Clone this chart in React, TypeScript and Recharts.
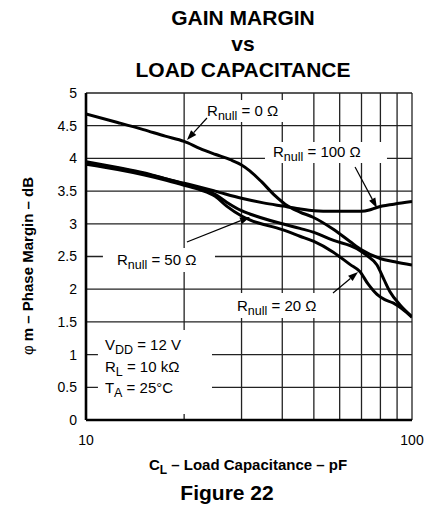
import React from 'react';
import { LineChart, Line, XAxis, YAxis, CartesianGrid, ReferenceArea, ReferenceLine } from 'recharts';

// ---- data ----
const xTicks = [10, 20, 30, 40, 50, 60, 70, 80, 90, 100];
const xTickLabels = ['10', '', '', '', '', '', '', '', '', '100'];
const yTicks = [0, 0.5, 1, 1.5, 2, 2.5, 3, 3.5, 4, 4.5, 5];

const r0X = [10, 12.5, 15, 17.5, 20, 22.4, 25, 27.7, 30, 31.8, 34.6, 38, 40.8, 45.3, 49.7, 57.2, 64.5, 70.2, 79.8, 88.5, 100];
const r0Y = [4.68, 4.55, 4.44, 4.34, 4.26, 4.15, 4.06, 3.98, 3.9, 3.81, 3.64, 3.43, 3.3, 3.18, 3.1, 2.92, 2.73, 2.6, 2.47, 2.42, 2.37];

const r100X = [10, 12.5, 15, 17.5, 20, 22.4, 24.9, 30, 35, 40.2, 45, 50, 57, 64, 70, 74, 78, 88, 100];
const r100Y = [3.95, 3.86, 3.78, 3.69, 3.62, 3.56, 3.5, 3.39, 3.32, 3.27, 3.23, 3.2, 3.19, 3.19, 3.19, 3.21, 3.25, 3.3, 3.34];

const r50X = [10, 12.5, 15, 17.5, 20, 22.4, 24.9, 27, 30, 31.8, 40, 45.3, 50, 57.2, 67.8, 72.5, 78.1, 82, 85.6, 91.9, 100];
const r50Y = [3.93, 3.85, 3.77, 3.69, 3.61, 3.54, 3.45, 3.33, 3.2, 3.15, 3.0, 2.93, 2.87, 2.75, 2.62, 2.52, 2.37, 2.15, 1.96, 1.76, 1.58];

const r20X = [10, 12.5, 15, 17.5, 20, 22.4, 24.9, 27, 30, 31.8, 40, 45.3, 50, 57.2, 64.5, 69.2, 73.3, 78.1, 82.5, 87.5, 93.2, 100];
const r20Y = [3.91, 3.83, 3.75, 3.67, 3.59, 3.52, 3.42, 3.27, 3.12, 3.06, 2.91, 2.81, 2.73, 2.57, 2.38, 2.27, 2.08, 1.92, 1.84, 1.79, 1.7, 1.57];

// annotation boxes (data coordinates)
const boxR0 = { x1: 22.86, x2: 41.07, y1: 4.557, y2: 4.893 };
const boxR100 = { x1: 35.4, x2: 83.8, y1: 3.93, y2: 4.251 };
const boxR50 = { x1: 11.27, x2: 24.87, y1: 2.263, y2: 2.63 };
const boxR20 = { x1: 28.05, x2: 54.5, y1: 1.56, y2: 1.942 };
const boxCond = { x1: 10.88, x2: 24.35, y1: 0.092, y2: 1.376 };

// arrows (data coordinates) [from, to]
const arrowR0 = [{ x: 23.5, y: 4.618 }, { x: 20.4, y: 4.281 }];
const arrowR100 = [{ x: 66.88, y: 3.869 }, { x: 78.07, y: 3.242 }];
const arrowR50 = [{ x: 20.4, y: 2.722 }, { x: 31.85, y: 3.104 }];
const arrowR20 = [{ x: 57.24, y: 1.942 }, { x: 68.31, y: 2.263 }];

const toPts = (xs: number[], ys: number[]) => xs.map((x, i) => ({ x, y: ys[i] }));

const FONT = '"Liberation Sans", Arial, Helvetica, sans-serif';

const Rnull = (value: string, dx: number, dy: number) => (props: any) => {
  const vb = props.viewBox || {};
  return (
    <text x={vb.x + dx} y={vb.y + dy} fontSize={15} fontFamily={FONT} fill="#000">
      <tspan>R</tspan>
      <tspan fontSize={12.5} dy={4}>null</tspan>
      <tspan dy={-4}>{` = ${value} Ω`}</tspan>
    </text>
  );
};

const CondLabel = (props: any) => {
  const vb = props.viewBox || {};
  const x = vb.x + 7;
  const y = vb.y;
  const row = (main: string, sub: string, rest: string, dy: number) => (
    <text x={x} y={y + dy} fontSize={15} fontFamily={FONT} fill="#000">
      <tspan>{main}</tspan>
      <tspan fontSize={12.5} dy={4}>{sub}</tspan>
      <tspan dy={-4}>{rest}</tspan>
    </text>
  );
  return (
    <g>
      {row('V', 'DD', ' = 12 V', 20)}
      {row('R', 'L', '  = 10 kΩ', 42)}
      {row('T', 'A', ' = 25°C', 63)}
    </g>
  );
};

const Arrow = (props: any) => {
  const { x1, y1, x2, y2 } = props;
  const ang = Math.atan2(y2 - y1, x2 - x1);
  const L = 10;
  const W = 3.5;
  const bx = x2 - L * Math.cos(ang);
  const by = y2 - L * Math.sin(ang);
  const px = -Math.sin(ang) * W;
  const py = Math.cos(ang) * W;
  return (
    <g>
      <line x1={x1} y1={y1} x2={bx} y2={by} stroke="#000" strokeWidth={1.2} />
      <polygon points={`${x2},${y2} ${bx + px},${by + py} ${bx - px},${by - py}`} fill="#000" />
    </g>
  );
};

export default function App() {
  return (
    <div style={{ position: 'absolute', left: 0, top: 0, width: 425, height: 508, background: '#fff' }}>
      <LineChart width={425} height={508} margin={{ top: 93, right: 13, bottom: 58, left: 46 }}>
        <CartesianGrid stroke="#222" strokeWidth={1.3} />
        <XAxis
          dataKey="x"
          type="number"
          scale="log"
          domain={[10, 100]}
          ticks={xTicks}
          interval={0}
          allowDataOverflow
          tickFormatter={(v: number) => xTickLabels[xTicks.indexOf(v)] ?? ''}
          tickLine={false}
          tickSize={6}
          tickMargin={9}
          height={30}
          axisLine={{ stroke: '#000', strokeWidth: 2.6 }}
          tick={{ fontSize: 14, fill: '#000', fontFamily: FONT }}
        />
        <XAxis
          xAxisId="top"
          orientation="top"
          dataKey="x"
          type="number"
          scale="log"
          domain={[10, 100]}
          ticks={xTicks}
          height={0}
          tick={false}
          tickLine={false}
          axisLine={{ stroke: '#000', strokeWidth: 2 }}
        />
        <YAxis
          type="number"
          domain={[0, 5]}
          ticks={yTicks}
          interval={0}
          width={40}
          tickLine={false}
          tickSize={6}
          tickMargin={3}
          axisLine={{ stroke: '#000', strokeWidth: 2.6 }}
          tick={{ fontSize: 14, fill: '#000', fontFamily: FONT }}
        />
        <YAxis
          yAxisId="right"
          orientation="right"
          type="number"
          domain={[0, 5]}
          ticks={yTicks}
          width={0}
          tick={false}
          tickLine={false}
          axisLine={{ stroke: '#000', strokeWidth: 2 }}
        />
        <ReferenceArea {...boxR0} fill="#fff" fillOpacity={1} stroke="none" label={Rnull('0', 4, 16)} />
        <ReferenceArea {...boxR100} fill="#fff" fillOpacity={1} stroke="none" label={Rnull('100', 8, 15)} />
        <ReferenceArea {...boxR50} fill="#fff" fillOpacity={1} stroke="none" label={Rnull('50', 14, 17)} />
        <ReferenceArea {...boxR20} fill="#fff" fillOpacity={1} stroke="none" label={Rnull('20', 5, 18)} />
        <ReferenceArea {...boxCond} fill="#fff" fillOpacity={1} stroke="none" label={CondLabel} />
        <Line data={toPts(r0X, r0Y)} dataKey="y" type="monotone" stroke="#000" strokeWidth={3} dot={false} isAnimationActive={false} />
        <Line data={toPts(r100X, r100Y)} dataKey="y" type="monotone" stroke="#000" strokeWidth={3} dot={false} isAnimationActive={false} />
        <Line data={toPts(r50X, r50Y)} dataKey="y" type="monotone" stroke="#000" strokeWidth={3} dot={false} isAnimationActive={false} />
        <Line data={toPts(r20X, r20Y)} dataKey="y" type="monotone" stroke="#000" strokeWidth={3} dot={false} isAnimationActive={false} />
        <ReferenceLine segment={arrowR0} shape={Arrow} />
        <ReferenceLine segment={arrowR100} shape={Arrow} />
        <ReferenceLine segment={arrowR50} shape={Arrow} />
        <ReferenceLine segment={arrowR20} shape={Arrow} />
      </LineChart>
      <svg width={425} height={508} style={{ position: 'absolute', left: 0, top: 0, pointerEvents: 'none' }}>
        <g fontFamily={FONT} fontWeight="bold" fill="#000" textAnchor="middle">
          <text x={243} y={25} fontSize={21}>GAIN MARGIN</text>
          <text x={243} y={51} fontSize={21}>vs</text>
          <text x={243} y={77} fontSize={21}>LOAD CAPACITANCE</text>
          <text x={248} y={470} fontSize={15}>
            <tspan>C</tspan>
            <tspan fontSize={12} dy={4}>L</tspan>
            <tspan dy={-4}> – Load Capacitance – pF</tspan>
          </text>
          <text x={227} y={500} fontSize={21}>Figure 22</text>
          <text x={33} y={266} fontSize={15} transform="rotate(-90, 33, 266)">
            <tspan fontWeight="normal">φ</tspan>
            <tspan> m – Phase Margin – dB</tspan>
          </text>
        </g>
      </svg>
    </div>
  );
}
